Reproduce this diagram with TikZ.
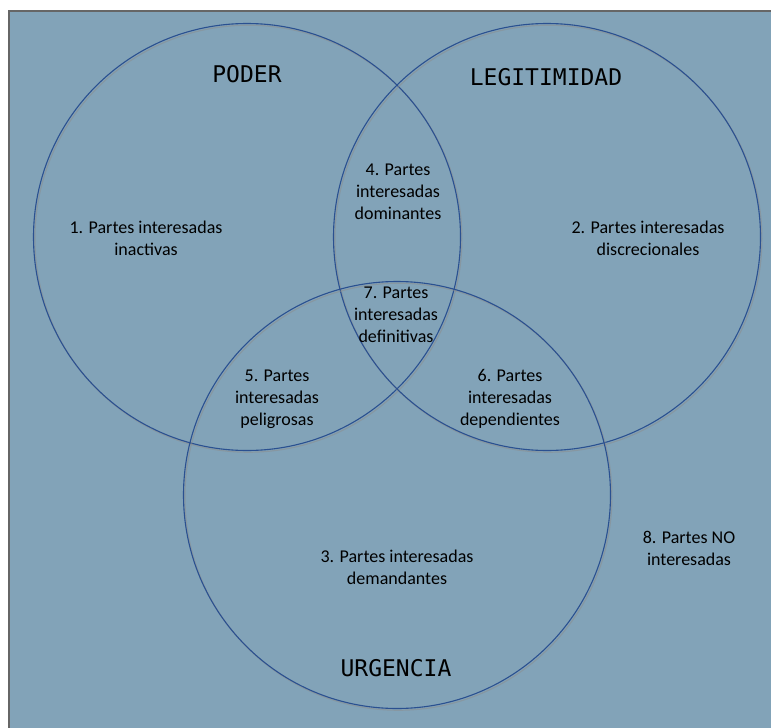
\documentclass[tikz,border=0pt]{standalone}
\usepackage{fontspec}
\setmainfont{Carlito}
\newfontfamily\titlefont{DejaVu Sans Mono}
\usetikzlibrary{positioning}
\definecolor{fondo}{HTML}{82A3B8}
\definecolor{azul}{HTML}{2A5090}

\begin{document}
\begin{tikzpicture}[x=1pt,y=-1pt,node distance=2cm,on grid,
    conjunto/.style={circle,draw=azul,line width=1.1pt,minimum size=427pt,inner sep=0pt,
      preaction={draw=black!45,opacity=0.5,line width=1.2pt,transform canvas={shift={(1.4pt,-1.7pt)}}}},
    titulo/.style={font=\titlefont\fontsize{23}{27}\selectfont},
    zona/.style={align=center,font=\fontsize{18}{22}\selectfont}]
  \useasboundingbox (0,0) rectangle (771,728);
  \fill[fondo] (9,11) rectangle (771,728);
  \draw[black!60,line width=1.3pt] (9,728) -- (9,11) -- (771,11);
  % conjuntos
  \node[conjunto] (poder) at (247,237) {};
  \node[conjunto] [right=300pt of poder] (legit) {};
  \node[conjunto] [below right=258pt and 150pt of poder] (urgen) {};
  % titulos
  \node[titulo] (t_poder) at (247,74) {PODER};
  \node[titulo] (t_legit) at (546,77) {LEGITIMIDAD};
  \node[titulo] (t_urgen) at (396,668) {URGENCIA};
  % zonas
  \node[zona] (inactivas) at (146,238) {1. Partes interesadas\\inactivas};
  \node[zona] (discrec) at (648,238) {2. Partes interesadas\\discrecionales};
  \node[zona] (demand) at (397,567) {3. Partes interesadas\\demandantes};
  \node[zona] (domin) at (398,192) {4. Partes\\interesadas\\dominantes};
  \node[zona] (peligr) at (277,399) {5. Partes\\interesadas\\peligrosas};
  \node[zona] (depend) at (510,399) {6. Partes\\interesadas\\dependientes};
  \node[zona] (defin) at (396,315) {7. Partes\\interesadas\\definitivas};
  \node[zona] (noint) at (689,548) {8. Partes NO\\interesadas};
\end{tikzpicture}
\end{document}
